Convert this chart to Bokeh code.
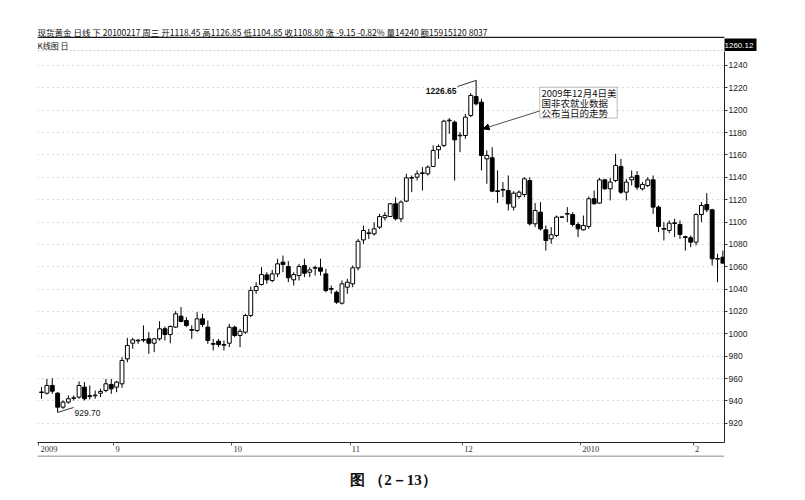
from bokeh.plotting import figure
from bokeh.layouts import column
from bokeh.models import (FixedTicker, LinearAxis, Label, BoxAnnotation,
                          Arrow, NormalHead, Range1d, ColumnDataSource)
from bokeh.core.properties import value
from bokeh.embed import file_html
from bokeh.resources import INLINE

# ---------------- data ----------------
opens = [947.5, 946.9, 953.8, 946.9, 934.4, 938.9, 942.3, 943.4, 952.3, 944.6,
         944.6, 946.9, 949.3, 954.7, 952.3, 955.3, 977.6, 991.6, 993.7, 994.3,
         995.5, 991.6, 995.5, 1004.5, 999.4, 1006.0, 1015.8, 1011.9, 1003.8, 1003.0,
         1013.4, 1006.0, 991.3, 993.4, 989.8, 991.6, 1005.9, 998.5, 1001.5, 1016.4,
         1038.7, 1044.1, 1052.7, 1047.7, 1053.6, 1064.1, 1060.2, 1048.3, 1052.1, 1061.1,
         1055.1, 1058.7, 1059.0, 1053.6, 1040.5, 1037.2, 1027.4, 1041.7, 1044.7, 1059.0,
         1084.0, 1089.7, 1089.4, 1095.4, 1103.8, 1104.9, 1116.3, 1102.9, 1118.7, 1139.2,
         1140.1, 1143.4, 1143.1, 1149.7, 1164.6, 1168.5, 1190.5, 1189.3, 1177.1, 1177.4,
         1195.3, 1212.3, 1207.2, 1156.5, 1157.4, 1127.9, 1128.5, 1128.2, 1113.3, 1122.8,
         1124.6, 1137.1, 1098.4, 1108.8, 1093.0, 1085.0, 1088.0, 1104.2, 1107.0, 1106.7,
         1097.8, 1093.0, 1096.0, 1120.8, 1116.9, 1137.7, 1129.7, 1137.1, 1149.7, 1126.7,
         1137.7, 1141.6, 1129.7, 1132.7, 1137.7, 1113.3, 1094.2, 1092.4, 1098.7, 1097.8,
         1086.8, 1085.9, 1082.0, 1106.7, 1115.7, 1110.9, 1066.8, 1068.5]
highs = [952.3, 959.7, 960.3, 947.8, 940.4, 944.9, 944.9, 957.4, 956.8, 953.8,
         949.3, 950.8, 959.7, 959.7, 958.0, 979.1, 996.4, 996.4, 995.5, 1007.5,
         1001.5, 996.4, 1011.3, 1006.6, 1007.5, 1020.3, 1023.9, 1014.9, 1007.5, 1019.4,
         1017.9, 1011.9, 995.5, 995.5, 994.0, 1008.9, 1007.4, 1004.4, 1017.9, 1042.3,
         1046.2, 1059.6, 1055.1, 1057.2, 1067.1, 1070.0, 1065.0, 1055.1, 1062.6, 1067.1,
         1059.6, 1061.1, 1067.1, 1058.1, 1043.2, 1038.7, 1047.7, 1049.2, 1061.1, 1084.9,
         1096.9, 1093.9, 1099.8, 1107.3, 1108.8, 1116.9, 1122.2, 1119.3, 1143.1, 1141.6,
         1146.1, 1149.1, 1150.6, 1168.5, 1169.4, 1191.4, 1192.9, 1190.8, 1180.4, 1196.8,
         1215.2, 1226.65, 1210.2, 1164.0, 1166.9, 1146.1, 1135.7, 1141.6, 1127.6, 1128.2,
         1140.1, 1140.1, 1116.9, 1117.8, 1096.9, 1095.4, 1105.8, 1105.5, 1113.3, 1108.8,
         1099.9, 1105.8, 1122.8, 1128.2, 1139.5, 1138.6, 1139.5, 1161.0, 1156.5, 1138.6,
         1146.1, 1145.5, 1135.7, 1140.1, 1141.6, 1114.8, 1099.9, 1101.4, 1102.9, 1101.4,
         1087.9, 1087.9, 1107.9, 1117.8, 1125.8, 1111.8, 1071.6, 1074.5]
lows = [941.9, 945.7, 946.3, 929.7, 932.9, 937.4, 940.4, 941.9, 940.4, 941.3,
        941.9, 943.4, 947.8, 946.3, 947.8, 951.7, 974.6, 986.6, 991.0, 992.5,
        982.1, 983.6, 994.0, 994.0, 991.6, 1005.4, 1010.4, 1006.0, 995.5, 1001.5,
        1006.0, 991.0, 985.1, 988.1, 985.1, 988.1, 997.0, 988.1, 999.9, 1014.9,
        1035.8, 1043.2, 1044.7, 1046.2, 1050.7, 1055.1, 1046.2, 1043.2, 1047.7, 1050.7,
        1050.7, 1052.1, 1052.1, 1037.2, 1035.8, 1026.8, 1026.2, 1035.8, 1041.7, 1056.6,
        1080.5, 1084.9, 1087.9, 1093.9, 1101.4, 1104.4, 1101.4, 1099.9, 1117.8, 1126.7,
        1137.2, 1128.2, 1141.6, 1149.1, 1156.5, 1167.0, 1178.9, 1137.1, 1162.5, 1174.4,
        1193.8, 1204.2, 1146.1, 1134.2, 1126.7, 1116.9, 1122.2, 1110.3, 1110.3, 1120.8,
        1122.2, 1096.9, 1095.4, 1092.4, 1074.5, 1080.5, 1086.5, 1103.5, 1099.9, 1096.0,
        1086.5, 1092.4, 1093.9, 1115.7, 1116.3, 1128.8, 1119.3, 1135.6, 1125.2, 1119.3,
        1132.7, 1128.8, 1128.2, 1131.2, 1107.3, 1090.9, 1083.5, 1090.0, 1086.5, 1085.0,
        1074.5, 1077.5, 1079.0, 1099.9, 1108.8, 1061.1, 1046.2, 1063.2]
closes = [948.0, 953.8, 948.7, 934.4, 938.9, 941.9, 942.8, 953.8, 941.9, 944.0,
          945.2, 948.5, 955.3, 950.8, 956.8, 976.2, 989.6, 994.6, 994.3, 994.9,
          991.6, 995.5, 1004.5, 999.4, 1006.6, 1017.9, 1011.0, 1007.4, 1003.2, 1013.4,
          1008.4, 994.0, 990.7, 990.4, 990.4, 1005.9, 998.5, 1002.3, 1016.4, 1038.7,
          1042.3, 1053.0, 1048.3, 1053.6, 1062.6, 1062.0, 1050.1, 1053.0, 1060.2, 1054.2,
          1057.2, 1059.3, 1056.0, 1038.7, 1039.9, 1028.3, 1044.7, 1046.2, 1059.0, 1082.8,
          1092.4, 1090.3, 1093.9, 1104.9, 1105.9, 1116.3, 1102.9, 1117.8, 1139.5, 1139.8,
          1143.1, 1144.0, 1149.1, 1164.0, 1167.6, 1190.2, 1191.1, 1173.5, 1177.7, 1193.8,
          1213.2, 1205.7, 1159.5, 1159.5, 1127.6, 1127.3, 1129.1, 1116.3, 1125.8, 1126.7,
          1138.6, 1098.4, 1110.3, 1093.9, 1083.5, 1088.6, 1104.4, 1104.6, 1107.6, 1097.8,
          1093.9, 1096.9, 1120.8, 1116.3, 1137.7, 1129.7, 1135.7, 1150.6, 1126.7, 1135.7,
          1140.1, 1131.2, 1133.6, 1137.7, 1113.3, 1096.0, 1093.6, 1099.0, 1099.3, 1088.9,
          1086.2, 1082.0, 1106.7, 1114.8, 1110.9, 1067.1, 1067.4, 1063.2]

month_ticks = [-0.5, 13.5, 35.5, 57.5, 78.5, 100.5, 121.5]
month_labels = ["2009", "9", "10", "11", "12", "2010", "2"]
price_ticks = [920, 940, 960, 980, 1000, 1020, 1040, 1060, 1080, 1100,
               1120, 1140, 1160, 1180, 1200, 1220, 1240]

header_text = ("现货黄金 日线 下 20100217 周三 开1118.45 高1126.85 低1104.85 "
               "收1108.80 涨 -9.15 -0.82% 量14240 额15915120 8037")
sub_text = "K线图 日"
range_max_text = "1260.12"
callout_lines = ["2009年12月4日美", "国非农就业数据", "公布当日的走势"]
caption_text = "图 （2－13）"

# ---------------- layout (page pixels) ----------------
W = 805
FX0, FX1, FY0, FY1 = 37, 724, 51, 442      # main plotting frame
HDR_BOTTOM = 38
MAIN_BOTTOM = 455
X0, X1 = -0.75, 127.3
Y0, Y1 = 902.8, 1252.5
PX_PER_X = (FX1 - FX0) / (X1 - X0)


def dx(px):
    return X0 + (px - FX0) / PX_PER_X


def dy(py):
    return Y0 + (FY1 - py) / (FY1 - FY0) * (Y1 - Y0)


def strip(y_top, y_bot):
    """A strip of the page whose frame shares the main frame's left/right edges;
    its data units are page pixels."""
    f = figure(width=W, height=y_bot - y_top, output_backend="svg",
               toolbar_location=None,
               x_range=Range1d(FX0, FX1), y_range=Range1d(y_bot, y_top),
               min_border_left=FX0, min_border_right=W - FX1,
               min_border_top=0, min_border_bottom=0,
               x_axis_location=None, y_axis_location=None)
    f.outline_line_color = None
    f.grid.visible = False
    return f


# ---------------- header strip ----------------
hdr = strip(0, HDR_BOTTOM)
hdr.text(x=[FX0], y=[31.5], text=[header_text], text_baseline="middle",
         text_align="left", text_font=value("Noto Sans CJK SC"),
         text_font_size=value("8.5px"), text_color="#111111")
hdr.segment(x0=[FX0], y0=[37], x1=[FX1], y1=[37], line_color="#1a1a1a", line_width=1.6)

# ---------------- sub-header strip (K线图 日 + range max box) ----------------
sub = strip(HDR_BOTTOM, FY0)
sub.text(x=[FX0], y=[44.8], text=[sub_text], text_baseline="middle",
         text_align="left", text_font=value("Noto Sans CJK SC"),
         text_font_size=value("8px"), text_color="#111111")
sub.segment(x0=[FX0], y0=[50.5], x1=[FX1], y1=[50.5], line_color="#999999",
            line_width=1, line_dash="2 2")
bax = LinearAxis(ticker=FixedTicker(ticks=[45]))
bax.major_label_overrides = {45: range_max_text}
bax.axis_line_color = None
bax.major_tick_line_color = None
bax.minor_tick_line_color = None
bax.major_tick_in = 0
bax.major_tick_out = 0
bax.major_label_standoff = 0
bax.major_label_text_font = "Liberation Sans"
bax.major_label_text_font_size = "8px"
try:
    bax.background_fill_color = "black"
    bax.major_label_text_color = "white"
except AttributeError:
    bax.major_label_text_color = "black"
sub.add_layout(bax, "right")

# ---------------- main chart ----------------
p = figure(width=W, height=MAIN_BOTTOM - FY0, output_backend="svg",
           toolbar_location=None,
           x_range=Range1d(X0, X1), y_range=Range1d(Y0, Y1),
           min_border_left=FX0, min_border_right=W - FX1,
           min_border_top=0, min_border_bottom=MAIN_BOTTOM - FY1,
           x_axis_location=None, y_axis_location=None)
p.outline_line_color = None
p.xgrid.visible = False

yax = LinearAxis(ticker=FixedTicker(ticks=price_ticks))
yax.axis_line_color = "#222222"
yax.major_tick_in = 0
yax.major_tick_out = 3
yax.minor_tick_line_color = None
yax.major_tick_line_color = "#333333"
yax.major_label_standoff = 1
yax.major_label_text_font = "Liberation Sans"
yax.major_label_text_font_size = "8.5px"
yax.major_label_text_color = "#222222"
p.add_layout(yax, "right")

# month boundary ticks (no labels)
xax = LinearAxis(ticker=FixedTicker(ticks=month_ticks))
xax.axis_line_color = "#222222"
xax.axis_line_width = 1.2
xax.major_tick_in = 0
xax.major_tick_out = 3
xax.minor_tick_line_color = None
xax.major_tick_line_color = "#555555"
xax.major_label_standoff = 0
xax.major_label_text_font_size = "0px"
xax.major_label_overrides = {t: "" for t in month_ticks}
p.add_layout(xax, "below")

# month labels, left aligned at the boundary ticks
lab_pos = [round(t + (len(s) * 4.3 / 2 + 1.5) / PX_PER_X, 3)
           for t, s in zip(month_ticks, month_labels)]
lax = LinearAxis(ticker=FixedTicker(ticks=lab_pos))
lax.axis_line_color = None
lax.major_tick_line_color = None
lax.minor_tick_line_color = None
lax.major_tick_out = 0
lax.major_tick_in = 0
lax.major_label_standoff = 0
lax.major_label_text_font = "Liberation Serif"
lax.major_label_text_font_size = "8.5px"
lax.major_label_text_color = "#333333"
lax.major_label_overrides = {pos: s for pos, s in zip(lab_pos, month_labels)}
p.add_layout(lax, "below")

p.ygrid.ticker = FixedTicker(ticks=price_ticks)
p.ygrid.grid_line_color = "#b8b8b8"
p.ygrid.grid_line_dash = "1 4"
p.ygrid.grid_line_width = 1

# candles
idx = list(range(len(opens)))
up = [i for i in idx if closes[i] >= opens[i]]
dn = [i for i in idx if closes[i] < opens[i]]

wick = ColumnDataSource(dict(x=idx, lo=lows, hi=highs))
p.segment(x0="x", y0="lo", x1="x", y1="hi", source=wick,
          line_color="black", line_width=1)
up_src = ColumnDataSource(dict(x=up, top=[closes[i] for i in up],
                               bot=[opens[i] for i in up]))
dn_src = ColumnDataSource(dict(x=dn, top=[opens[i] for i in dn],
                               bot=[closes[i] for i in dn]))
p.vbar(x="x", width=0.72, top="top", bottom="bot", source=up_src,
       fill_color="white", line_color="black", line_width=1)
p.vbar(x="x", width=0.72, top="top", bottom="bot", source=dn_src,
       fill_color="black", line_color="black", line_width=1)

# extreme annotations
i_hi = max(idx, key=lambda i: highs[i])
i_lo = min(idx, key=lambda i: lows[i])
p.line(x=[i_hi, dx(457)], y=[highs[i_hi], dy(86)], line_color="black", line_width=0.8)
p.add_layout(Label(x=dx(456), y=dy(90.5), text=f"{highs[i_hi]:.2f}",
                   text_align="right", text_baseline="middle",
                   text_font="Liberation Sans", text_font_size="8.5px",
                   text_font_style="bold", text_color="#111111"))
p.line(x=[i_lo, dx(73)], y=[lows[i_lo], dy(407)], line_color="black", line_width=0.8)
p.add_layout(Label(x=dx(74), y=dy(412.5), text=f"{lows[i_lo]:.2f}",
                   text_align="left", text_baseline="middle",
                   text_font="Liberation Sans", text_font_size="8.5px",
                   text_color="#111111"))

# callout box + arrow
i_nfp = i_hi + 1
p.add_layout(BoxAnnotation(left=dx(539.3), right=dx(616.7), top=dy(86.7),
                           bottom=dy(117.5), fill_color="white", fill_alpha=1,
                           line_color="#222222", line_width=1))
for k, line in enumerate(callout_lines):
    p.add_layout(Label(x=dx(541), y=dy(92 + 10.2 * k), text=line,
                       text_align="left", text_baseline="middle",
                       text_font="Noto Sans CJK SC", text_font_size="9.5px",
                       text_color="#111111"))
p.add_layout(Arrow(end=NormalHead(size=6, fill_color="black", line_color="black"),
                   x_start=dx(539), y_start=dy(110.5),
                   x_end=i_nfp + 0.3, y_end=(opens[i_nfp] + closes[i_nfp]) / 2,
                   line_color="#222222", line_width=0.8))

# ---------------- footer strip ----------------
ftr = strip(MAIN_BOTTOM, 500)
ftr.segment(x0=[FX0], y0=[MAIN_BOTTOM + 0.5], x1=[FX1], y1=[MAIN_BOTTOM + 0.5],
            line_color="#666666", line_width=1)
ftr.text(x=[393], y=[479], text=[caption_text], text_baseline="middle",
         text_align="center", text_font=value("Liberation Serif"),
         text_font_size=value("15px"), text_font_style="bold", text_color="#111111")

layout = column(hdr, sub, p, ftr, spacing=0)
open("out.html", "w").write(file_html(layout, INLINE))
